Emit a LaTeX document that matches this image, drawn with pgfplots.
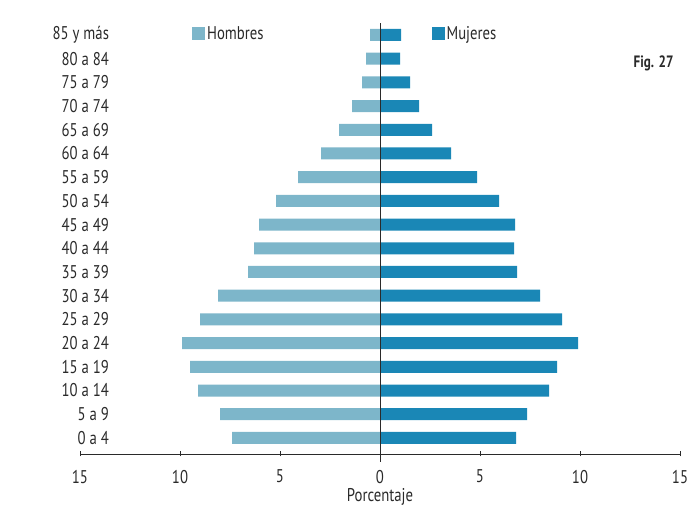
\documentclass[border=0pt]{standalone}
\usepackage{pgfplots}
\pgfplotsset{compat=1.18}
\usepackage{fontspec}
\setmainfont{PT Sans}[FakeStretch=0.8]

\definecolor{c_hombres}{HTML}{7DB6CA}
\definecolor{c_mujeres}{HTML}{1A87B6}
\definecolor{c_text}{HTML}{2A2A2A}

\begin{document}
\begin{tikzpicture}
\begin{axis}[
    x=20bp, y=23.7bp,
    xmin=-15, xmax=15,
    ymin=-0.675, ymax=17.5,
    clip=false,
    xbar, bar width=12bp, bar shift=0pt,
    axis x line=bottom, axis y line=left,
    axis line style={-, thick, c_text},
    y axis line style={draw=none},
    xtick={-15,-10,-5,0,5,10,15},
    xticklabels={15,10,5,0,5,10,15},
    x tick style={c_text, thick},
    major tick length=5bp,
    ytick={0,...,17},
    yticklabels={0 a 4,5 a 9,10 a 14,15 a 19,20 a 24,25 a 29,30 a 34,35 a 39,40 a 44,45 a 49,50 a 54,55 a 59,60 a 64,65 a 69,70 a 74,75 a 79,80 a 84,85 y más},
    y tick style={draw=none},
    yticklabel style={anchor=east, xshift=35bp},
    xticklabel style={yshift=-10bp},
    ticklabel style={font=\fontsize{18.5}{20}\selectfont, text=c_text},
    /pgf/number format/assume math mode=true,
    xlabel={Porcentaje},
    xlabel style={font=\fontsize{18.5}{20}\selectfont, text=c_text, yshift=2bp},
    legend columns=2,
    legend style={draw=none, fill=none, at={(axis cs:-9.55,17.05)}, anchor=west,
        font=\fontsize{18.5}{20}\selectfont, text=c_text,
        /tikz/every even column/.append style={column sep=166bp}},
    legend image code/.code={\fill[#1] (0bp,-6.5bp) rectangle (13bp,6.5bp);},
]
\addplot[draw=none, fill=c_hombres] coordinates {
(-7.4,0) (-8.0,1) (-9.1,2) (-9.5,3) (-9.9,4) (-9.0,5) (-8.1,6) (-6.6,7) (-6.3,8)
(-6.05,9) (-5.2,10) (-4.1,11) (-2.95,12) (-2.05,13) (-1.4,14) (-0.9,15) (-0.7,16) (-0.5,17)};
\addplot[draw=none, fill=c_mujeres] coordinates {
(6.8,0) (7.35,1) (8.45,2) (8.85,3) (9.9,4) (9.1,5) (8.0,6) (6.85,7) (6.7,8)
(6.75,9) (5.95,10) (4.85,11) (3.55,12) (2.6,13) (1.95,14) (1.5,15) (1.0,16) (1.05,17)};
\legend{Hombres,Mujeres}
\draw[c_text, thick] (axis cs:0,-1.0) -- (axis cs:0,17.5);
\node[anchor=east, font=\bfseries\fontsize{16.5}{18}\selectfont, text=c_text] at (axis cs:14.85,15.8) {Fig. 27};
\path (axis cs:-19,-2.869) rectangle (axis cs:15.75,18.477);
\end{axis}
\end{tikzpicture}
\end{document}
